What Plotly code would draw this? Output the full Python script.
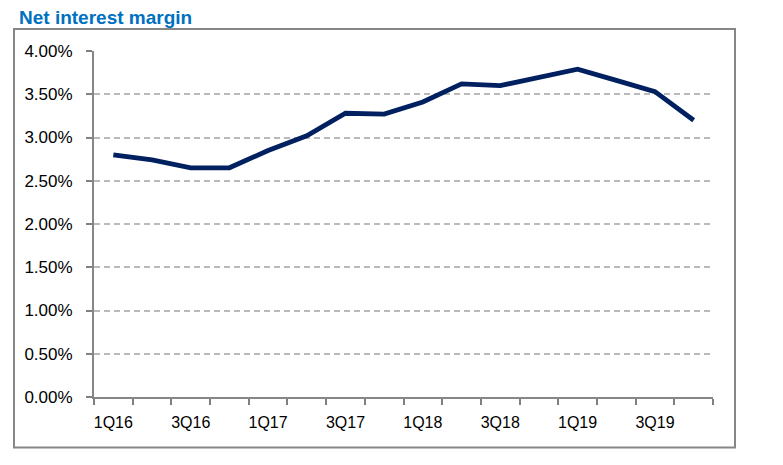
import plotly.graph_objects as go

quarters = ["1Q16", "2Q16", "3Q16", "4Q16", "1Q17", "2Q17", "3Q17", "4Q17",
            "1Q18", "2Q18", "3Q18", "4Q18", "1Q19", "2Q19", "3Q19", "4Q19"]
nim = [2.80, 2.74, 2.65, 2.65, 2.85, 3.02, 3.28, 3.27,
       3.41, 3.62, 3.60, 3.69, 3.79, 3.66, 3.53, 3.20]
y_ticks = [0, 0.5, 1.0, 1.5, 2.0, 2.5, 3.0, 3.5, 4.0]
x_labels = [q if i % 2 == 0 else "" for i, q in enumerate(quarters)]

FONT = "Liberation Sans"

fig = go.Figure()
fig.add_trace(go.Scatter(
    x=quarters, y=nim, mode="lines",
    line=dict(color="#002060", width=4.8),
    hoverinfo="skip", showlegend=False,
))

fig.update_layout(
    width=783, height=465,
    margin=dict(l=86, r=78, t=43, b=76),
    paper_bgcolor="white", plot_bgcolor="white",
    font=dict(family=FONT, size=16, color="black"),
    title=dict(text="<b>Net interest margin</b>", x=11 / 783, xanchor="left",
               xref="container", y=1 - 9 / 465, yref="container", yanchor="middle",
               font=dict(family=FONT, size=19, color="#0070C0")),
    xaxis=dict(
        type="category", range=[-0.5, 15.5], automargin=False,
        tickmode="array", tickvals=quarters, ticktext=x_labels, tickangle=0,
        tickson="boundaries", ticks="outside", ticklen=6, tickcolor="#808080",
        tickwidth=1.5, showline=True, linecolor="#868686", linewidth=2,
        showgrid=False, zeroline=False, tickfont=dict(size=16),
        ticklabelstandoff=10,
    ),
    yaxis=dict(
        range=[0, 4.0], tickmode="array", tickvals=y_ticks, automargin=False,
        ticktext=[f"{v:.2f}%" for v in y_ticks],
        ticks="outside", ticklen=6, tickcolor="#808080", tickwidth=1.5,
        showline=True, linecolor="#868686", linewidth=2,
        showgrid=True, gridcolor="#BABABA", griddash="6px,4px", gridwidth=1.5,
        zeroline=False, tickfont=dict(size=17), ticklabelstandoff=10,
    ),
    shapes=[dict(
        type="rect", xref="paper", yref="paper",
        x0=(14 - 94) / 619, x1=(735 - 94) / 619,
        y0=(396.6 - 447) / 345.6, y1=(396.6 - 29) / 345.6,
        line=dict(color="#868686", width=2), fillcolor="rgba(0,0,0,0)", layer="below",
    )],
)

fig.write_html("out.html")
